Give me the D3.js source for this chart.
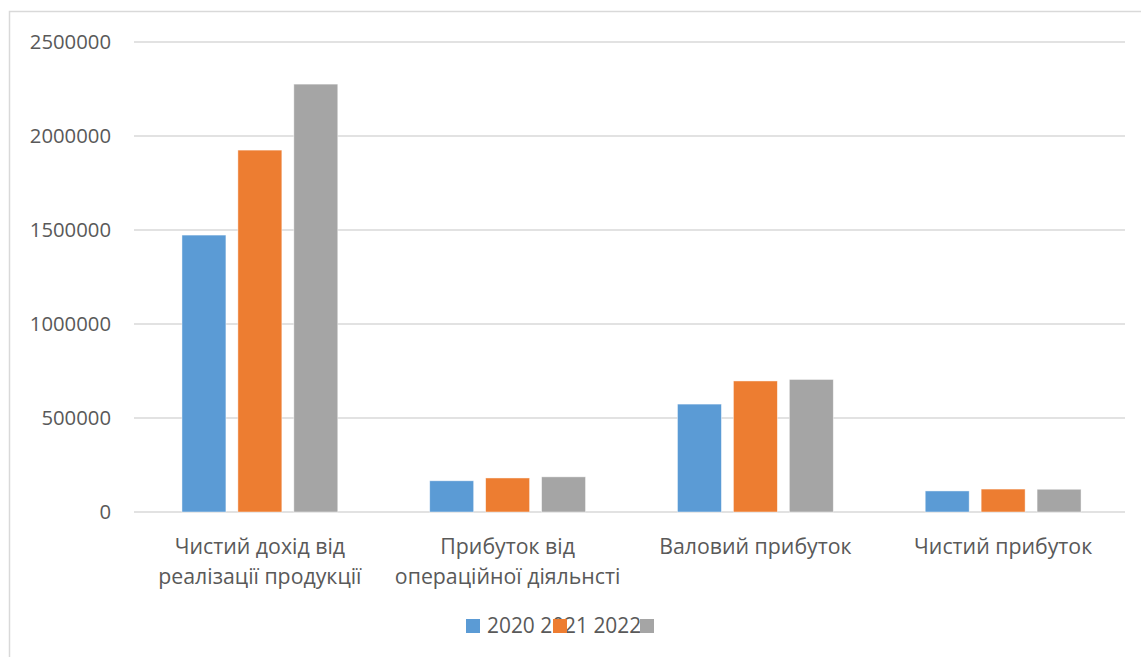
<!DOCTYPE html>
<html lang="uk">
<head>
  <meta charset="UTF-8">
  <title>Фінансові показники 2020-2022</title>
  <style>
    body {
      margin: 0;
      padding: 0;
      background-color: white;
      font-family: "Open Sans", "Noto Sans", sans-serif;
    }
    .grid line {
      stroke: #d9d9d9;
      stroke-width: 1.5;
    }
    .tick-label, .cat-label, .legend-text {
      fill: #595959;
    }
  </style>
</head>
<body>
  <div id="chart"></div>

  <script src="https://d3js.org/d3.v7.min.js"></script>
  <script>
    var categories = [
      ["Чистий дохід від", "реалізації продукції"],
      ["Прибуток від", "операційної діяльнсті"],
      ["Валовий прибуток"],
      ["Чистий прибуток"]
    ];
    var series = ["2020", "2021", "2022"];
    var values2020 = [1473000, 166000, 574000, 112000];
    var values2021 = [1925000, 181000, 697000, 122000];
    var values2022 = [2276000, 187000, 705000, 121000];
    var yTicks = [0, 500000, 1000000, 1500000, 2000000, 2500000];
    var colors = ["#5b9bd5", "#ed7d31", "#a5a5a5"];

    var allValues = [values2020, values2021, values2022];

    var W = 1141, H = 657;
    var plot = {left: 134, right: 1125, top: 42, bottom: 512};

    var svg = d3.select("#chart").append("svg")
      .attr("width", W)
      .attr("height", H);

    // chart frame (only top and left edges are in view)
    svg.append("path")
      .attr("d", "M9.5," + H + "V11.5H" + W)
      .attr("fill", "none")
      .attr("stroke", "#d9d9d9")
      .attr("stroke-width", 1.5);

    var y = d3.scaleLinear()
      .domain([0, 2500000])
      .range([plot.bottom, plot.top]);

    var x0 = d3.scaleBand()
      .domain(d3.range(categories.length))
      .range([plot.left + 2, plot.right + 2])
      .paddingInner(0.371)
      .paddingOuter(0.1855);

    var x1 = d3.scaleBand()
      .domain(series)
      .range([0, x0.bandwidth()])
      .paddingInner(0.214);

    // gridlines
    svg.append("g")
      .attr("class", "grid")
      .selectAll("line")
      .data(yTicks)
      .enter().append("line")
      .attr("x1", plot.left)
      .attr("x2", plot.right)
      .attr("y1", function(d) { return y(d); })
      .attr("y2", function(d) { return y(d); });

    // y tick labels
    svg.append("g")
      .selectAll("text")
      .data(yTicks)
      .enter().append("text")
      .attr("class", "tick-label")
      .attr("x", 111)
      .attr("y", function(d) { return y(d); })
      .attr("dy", "0.35em")
      .attr("text-anchor", "end")
      .style("font-size", "20.3px")
      .text(function(d) { return d; });

    // bars
    var groups = svg.selectAll(".cat")
      .data(categories)
      .enter().append("g")
      .attr("class", "cat")
      .attr("transform", function(d, i) { return "translate(" + x0(i) + ",0)"; });

    groups.selectAll("rect")
      .data(function(d, i) {
        return series.map(function(s, j) { return {s: s, j: j, v: allValues[j][i]}; });
      })
      .enter().append("rect")
      .attr("x", function(d) { return x1(d.s); })
      .attr("y", function(d) { return y(d.v); })
      .attr("width", x1.bandwidth())
      .attr("height", function(d) { return plot.bottom - y(d.v); })
      .attr("fill", function(d) { return colors[d.j]; })
      .attr("stroke", "#ffffff")
      .attr("stroke-opacity", 0.6)
      .attr("stroke-width", 0.75);

    // category labels
    groups.append("text")
      .attr("class", "cat-label")
      .attr("x", x0.bandwidth() / 2)
      .attr("y", plot.bottom + 42)
      .attr("text-anchor", "middle")
      .style("font-size", "21.3px")
      .selectAll("tspan")
      .data(function(d) { return d; })
      .enter().append("tspan")
      .attr("x", x0.bandwidth() / 2)
      .attr("dy", function(d, i) { return i === 0 ? 0 : 30; })
      .text(function(d) { return d; });

    // legend: one label string with the three markers laid over it
    var legend = svg.append("g")
      .attr("transform", "translate(466,626)");

    legend.append("text")
      .attr("class", "legend-text")
      .attr("x", 21)
      .attr("y", 0)
      .attr("dy", "0.35em")
      .style("font-size", "20.9px")
      .text(series.join(" "));

    legend.selectAll("rect")
      .data(series)
      .enter().append("rect")
      .attr("x", function(d, i) { return i * 87; })
      .attr("y", -7)
      .attr("width", 14)
      .attr("height", 14)
      .attr("fill", function(d, i) { return colors[i]; });
  </script>
</body>
</html>
